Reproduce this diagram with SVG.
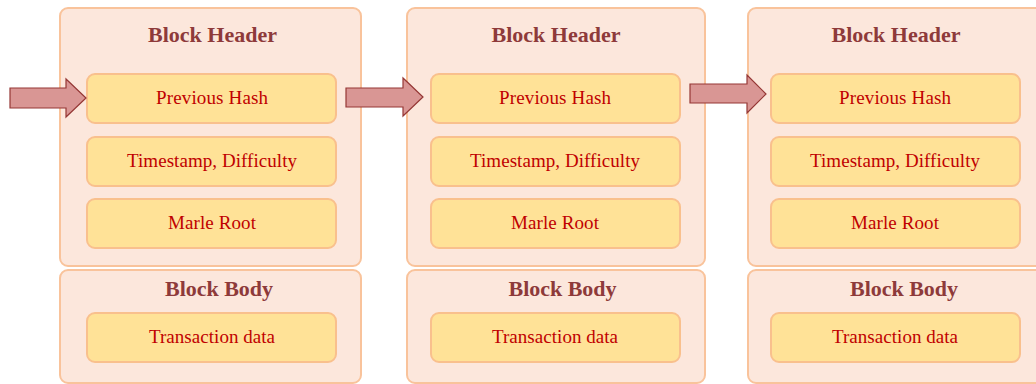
<svg xmlns="http://www.w3.org/2000/svg" width="1036" height="384" viewBox="0 0 1036 384">
<style>
.outer{fill:#fce7dc;stroke:#f9c39b;stroke-width:2}
.inner{fill:#ffe297;stroke:#f9c08d;stroke-width:2}
.title{font-family:"Liberation Serif",serif;font-weight:bold;font-size:22px;fill:#8e3a3a;text-anchor:middle}
.lbl{font-family:"Liberation Serif",serif;font-size:19px;fill:#c00000;text-anchor:middle}
.arrow{fill:#d99694;stroke:#953735;stroke-width:1.2}
</style>
<g id="block1">
<rect class="outer" x="60" y="8" width="301" height="258" rx="8"/>
<text class="title" x="212.5" y="42" textLength="129" lengthAdjust="spacing">Block Header</text>
<rect class="inner" x="87" y="74" width="249" height="49" rx="8"/>
<text class="lbl" x="212" y="104" textLength="112" lengthAdjust="spacing">Previous Hash</text>
<rect class="inner" x="87" y="137" width="249" height="49" rx="8"/>
<text class="lbl" x="212" y="167" textLength="170" lengthAdjust="spacing">Timestamp, Difficulty</text>
<rect class="inner" x="87" y="199" width="249" height="49" rx="8"/>
<text class="lbl" x="212" y="229" textLength="88" lengthAdjust="spacing">Marle Root</text>
<rect class="outer" x="60" y="270" width="301" height="113" rx="8"/>
<text class="title" x="219" y="296" textLength="108" lengthAdjust="spacing">Block Body</text>
<rect class="inner" x="87" y="313" width="249" height="49" rx="8"/>
<text class="lbl" x="212" y="343" textLength="126" lengthAdjust="spacing">Transaction data</text>
</g>
<g id="block2">
<rect class="outer" x="407" y="8" width="298" height="258" rx="8"/>
<text class="title" x="556" y="42" textLength="129" lengthAdjust="spacing">Block Header</text>
<rect class="inner" x="431" y="74" width="249" height="49" rx="8"/>
<text class="lbl" x="555" y="104" textLength="112" lengthAdjust="spacing">Previous Hash</text>
<rect class="inner" x="431" y="137" width="249" height="49" rx="8"/>
<text class="lbl" x="555" y="167" textLength="170" lengthAdjust="spacing">Timestamp, Difficulty</text>
<rect class="inner" x="431" y="199" width="249" height="49" rx="8"/>
<text class="lbl" x="555" y="229" textLength="88" lengthAdjust="spacing">Marle Root</text>
<rect class="outer" x="407" y="270" width="298" height="113" rx="8"/>
<text class="title" x="562.5" y="296" textLength="108" lengthAdjust="spacing">Block Body</text>
<rect class="inner" x="431" y="313" width="249" height="49" rx="8"/>
<text class="lbl" x="555" y="343" textLength="126" lengthAdjust="spacing">Transaction data</text>
</g>
<g id="block3">
<rect class="outer" x="748" y="8" width="301" height="258" rx="8"/>
<text class="title" x="896" y="42" textLength="129" lengthAdjust="spacing">Block Header</text>
<rect class="inner" x="771" y="74" width="249" height="49" rx="8"/>
<text class="lbl" x="895" y="104" textLength="112" lengthAdjust="spacing">Previous Hash</text>
<rect class="inner" x="771" y="137" width="249" height="49" rx="8"/>
<text class="lbl" x="895" y="167" textLength="170" lengthAdjust="spacing">Timestamp, Difficulty</text>
<rect class="inner" x="771" y="199" width="249" height="49" rx="8"/>
<text class="lbl" x="895" y="229" textLength="88" lengthAdjust="spacing">Marle Root</text>
<rect class="outer" x="748" y="270" width="301" height="113" rx="8"/>
<text class="title" x="904" y="296" textLength="108" lengthAdjust="spacing">Block Body</text>
<rect class="inner" x="771" y="313" width="249" height="49" rx="8"/>
<text class="lbl" x="895" y="343" textLength="126" lengthAdjust="spacing">Transaction data</text>
</g>
<g id="connectors">
<polygon class="arrow" points="10,88 66,88 66,79 86,98 66,117 66,108 10,108"/>
<polygon class="arrow" points="346,88 403,88 403,78 423,97 403,116 403,107 346,107"/>
<polygon class="arrow" points="690,84 747,84 747,75 766,94 747,113 747,103 690,103"/>
</g>
</svg>
